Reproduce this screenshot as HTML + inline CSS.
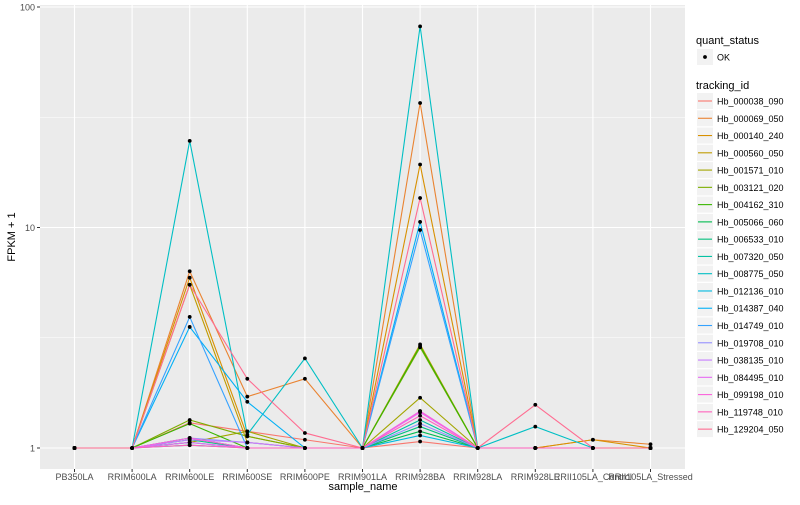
<!DOCTYPE html>
<html><head><meta charset="utf-8"><style>
body{margin:0;background:#fff;font-family:"Liberation Sans",sans-serif}
svg text{font-family:"Liberation Sans",sans-serif}
</style></head><body>
<svg id="c" width="800" height="500" xmlns="http://www.w3.org/2000/svg">
<rect x="40" y="5" width="645" height="464" fill="#ebebeb"/>
<g id="grid"></g><g id="lines"></g><g id="pts"></g><g id="axes"></g><g id="legend"></g>
</svg>
<script>
const categories=["PB350LA","RRIM600LA","RRIM600LE","RRIM600SE","RRIM600PE","RRIM901LA","RRIM928BA","RRIM928LA","RRIM928LE","RRII105LA_Control","RRII105LA_Stressed"];
const trackingIds=["Hb_000038_090","Hb_000069_050","Hb_000140_240","Hb_000560_050","Hb_001571_010","Hb_003121_020","Hb_004162_310","Hb_005066_060","Hb_006533_010","Hb_007320_050","Hb_008775_050","Hb_012136_010","Hb_014387_040","Hb_014749_010","Hb_019708_010","Hb_038135_010","Hb_084495_010","Hb_099198_010","Hb_119748_010","Hb_129204_050"];
const colors=["#F8766D","#EA8331","#D89000","#C09B00","#A3A500","#7CAE00","#39B600","#00BB4E","#00BF7D","#00C1A3","#00BFC4","#00BAE0","#00B0F6","#35A2FF","#9590FF","#C77CFF","#E76BF3","#FA62DB","#FF62BC","#FF6C91"];
const s0=[1,1,1.3,1.19,1.09,1,1.07,1,1,1,1];
const s1=[1,1,6.33,1.71,2.06,1,36.7,1,1,1.09,1.04];
const s2=[1,1,5.92,1.13,1,1,19.3,1,1,1.09,1];
const s3=[1,1,5.5,1.06,1,1,2.95,1,1,1,1];
const s4=[1,1,1.06,1.19,1,1,1.69,1,1,1,1];
const s5=[1,1,1.34,1.13,1,1,2.86,1,1,1,1];
const s6=[1,1,1.29,1,1,1,2.9,1,1,1,1];
const s7=[1,1,1.11,1,1,1,1.19,1,1,1,1];
const s8=[1,1,1.09,1,1,1,1.25,1,1,1,1];
const s9=[1,1,1.03,1,1,1,1.34,1,1,1,1];
const s10=[1,1,24.7,1.15,2.55,1,81.7,1,1.25,1,1];
const s11=[1,1,1.06,1,1,1,1.14,1,1,1,1];
const s12=[1,1,3.54,1.62,1,1,10.6,1,1,1,1];
const s13=[1,1,3.93,1,1,1,9.74,1,1,1,1];
const s14=[1,1,1.11,1.06,1,1,1.29,1,1,1,1];
const s15=[1,1,1.09,1.06,1,1,1.47,1,1,1,1];
const s16=[1,1,1.06,1,1,1,1.45,1,1,1,1];
const s17=[1,1,1.11,1,1,1,1.47,1,1,1,1];
const s18=[1,1,1.03,1,1,1,1.4,1,1,1,1];
const s19=[1,1,5.5,2.06,1.17,1,13.6,1,1.57,1,1];
const series=[s0,s1,s2,s3,s4,s5,s6,s7,s8,s9,s10,s11,s12,s13,s14,s15,s16,s17,s18,s19];
const yTicks=[1,10,100];
const yMinor=[3.1623,31.623];

const NS="http://www.w3.org/2000/svg";
function X(i){return 74.5+i*57.6;}
function Y(v){return 448-Math.log10(v)*220.5;}
function mk(t,a,p){const e=document.createElementNS(NS,t);for(const k in a)e.setAttribute(k,a[k]);p.appendChild(e);return e;}
const grid=document.getElementById('grid'),lines=document.getElementById('lines'),pts=document.getElementById('pts'),axes=document.getElementById('axes'),leg=document.getElementById('legend');
yMinor.forEach(v=>{const l=mk('line',{x1:40,x2:685,y1:Y(v),y2:Y(v),stroke:'#fff','stroke-width':0.5},grid);

});
yTicks.forEach(v=>{const l=mk('line',{x1:40,x2:685,y1:Y(v),y2:Y(v),stroke:'#fff','stroke-width':1.1},grid);


const tk=mk('line',{x1:37,x2:40,y1:Y(v),y2:Y(v),stroke:'#333','stroke-width':1},axes);


const t=mk('text',{x:35,y:Y(v)+3.5,'text-anchor':'end','font-size':9,fill:'#4d4d4d'},axes);t.textContent=v;

});
categories.forEach((c,i)=>{const l=mk('line',{x1:X(i),x2:X(i),y1:5,y2:469,stroke:'#fff','stroke-width':1.1},grid);


const tk=mk('line',{x1:X(i),x2:X(i),y1:469,y2:472,stroke:'#333','stroke-width':1},axes);


const t=mk('text',{x:X(i),y:480,'text-anchor':'middle','font-size':9,fill:'#4d4d4d'},axes);t.textContent=c;

});
series.forEach((s,k)=>{const p=mk('polyline',{points:s.map((v,i)=>X(i)+','+Y(v)).join(' '),fill:'none',stroke:colors[k],'stroke-width':1.1},lines);


s.forEach((v,i)=>{const c=mk('circle',{cx:X(i),cy:Y(v),r:1.9,fill:'#000'},pts);

});});
let t=mk('text',{x:363,y:490,'text-anchor':'middle','font-size':11,fill:'#000'},axes);t.textContent='sample_name';


t=mk('text',{x:0,y:0,'text-anchor':'middle','font-size':11,fill:'#000',transform:'translate(15,237) rotate(-90)'},axes);t.textContent='FPKM + 1';


t=mk('text',{x:696,y:44,'font-size':11,fill:'#000'},leg);t.textContent='quant_status';


let r=mk('rect',{x:697,y:49,width:16,height:16,fill:'#f2f2f2'},leg);


let c=mk('circle',{cx:705,cy:57,r:1.9,fill:'#000'},leg);


t=mk('text',{x:717,y:60.5,'font-size':9,fill:'#000'},leg);t.textContent='OK';


t=mk('text',{x:696,y:89,'font-size':11,fill:'#000'},leg);t.textContent='tracking_id';


trackingIds.forEach((id,k)=>{const y=101+k*17.27;
const b=mk('rect',{x:697,y:y-8,width:16,height:16,fill:'#f2f2f2'},leg);


const l=mk('line',{x1:698,x2:712,y1:y,y2:y,stroke:colors[k],'stroke-width':1.1},leg);


const tx=mk('text',{x:717,y:y+3.5,'font-size':9,fill:'#000'},leg);tx.textContent=id;

});
</script>
</body></html>
